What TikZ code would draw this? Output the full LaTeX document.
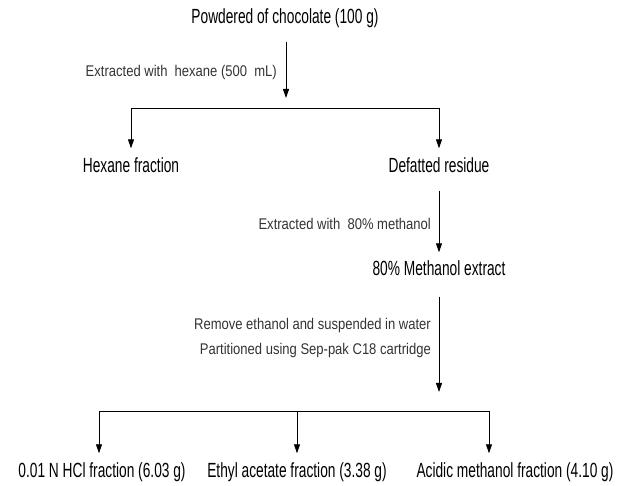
\documentclass[tikz,border=0pt]{standalone}
\usepackage{fontspec}
\setmainfont[FakeStretch=0.67]{Liberation Sans}
\newfontfamily\notefont[FakeStretch=0.84]{Liberation Sans}
\usetikzlibrary{arrows.meta}

\begin{document}
\begin{tikzpicture}[x=1pt, y=-1pt,
    every node/.style={inner sep=0pt},
    frac/.style={font=\fontsize{20.5}{22}\selectfont, text height=15pt, text depth=4pt},
    note/.style={font=\notefont\fontsize{15.5}{25}\selectfont, text=black!80, anchor=east, align=right},
    arr/.style={-{Triangle[width=6pt,length=9pt]}, line width=0.9pt}]
    \useasboundingbox (0,0) rectangle (625,486);
    % products
    \node [frac] (choc) at (285,18) {Powdered of chocolate (100 g)};
    \node [frac] (hex) at (131,167) {Hexane fraction};
    \node [frac] (def) at (439,167) {Defatted residue};
    \node [frac] (meth) at (439,270) {80\% Methanol extract};
    \node [frac] (hcl) at (102,472) {0.01 N HCl fraction (6.03 g)};
    \node [frac] (ethyl) at (297,472) {Ethyl acetate fraction (3.38 g)};
    \node [frac] (acid) at (515,472) {Acidic methanol fraction (4.10 g)};
    % split points
    \coordinate (split1) at (286,98);
    \coordinate (bar1) at (0,108);
    \coordinate (split2) at (439,392);
    \coordinate (bar2) at (0,411);
    \coordinate (col1) at (99,0);
    \coordinate (col3) at (489,0);
    % steps
    \draw [arr, shorten <=14pt] (choc.south -| split1) -- (split1);
    \node [note] (step1) at (277,72) {Extracted with~ hexane (500~ mL)};
    \draw [line width=0.9pt] (hex |- bar1) -- (def |- bar1);
    \draw [arr, shorten >=9pt] (hex |- bar1) -- (hex.north);
    \draw [arr, shorten >=9pt] (def |- bar1) -- (def.north);
    \draw [arr, shorten <=14pt, shorten >=8pt] (def.south) -- (meth.north);
    \node [note] (step2) at (431,224) {Extracted with~ 80\% methanol};
    \draw [arr, shorten <=17pt] (meth.south) -- (split2);
    \node [note] (step3) at (431,338) {Remove ethanol and suspended in water\\Partitioned using Sep-pak C18 cartridge};
    \draw [line width=0.9pt] (col1 |- bar2) -- (col3 |- bar2);
    \draw [arr, shorten >=9pt] (col1 |- bar2) -- (col1 |- hcl.north);
    \draw [arr, shorten >=9pt] (ethyl |- bar2) -- (ethyl.north);
    \draw [arr, shorten >=9pt] (col3 |- bar2) -- (col3 |- acid.north);
\end{tikzpicture}
\end{document}
